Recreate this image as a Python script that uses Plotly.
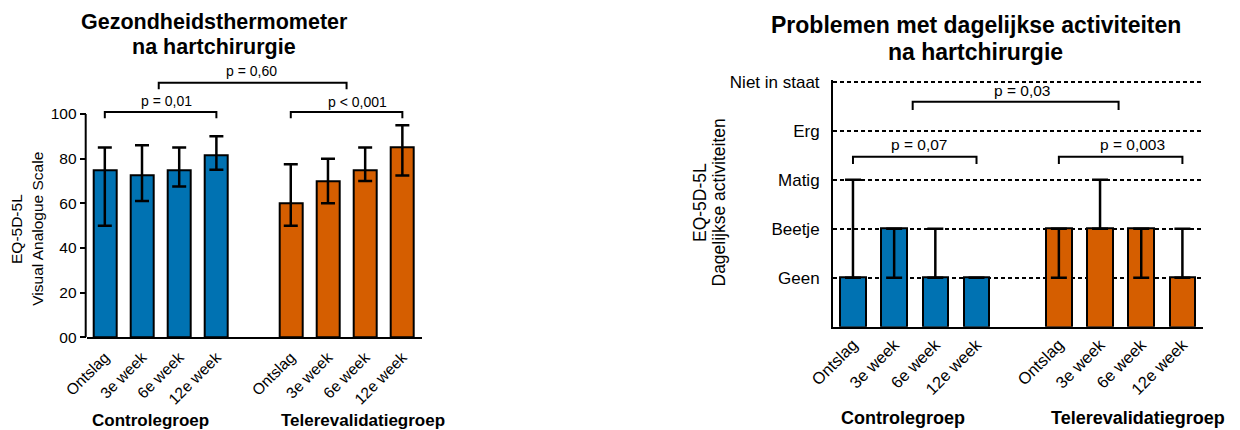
import plotly.graph_objects as go

# ---------------- data ----------------
categories = ["Ontslag", "3e week", "6e week", "12e week"]
groups = ["Controlegroep", "Telerevalidatiegroep"]

# Left chart: EQ-5D-5L VAS (median with error range)
vas_control = [75, 72.5, 75, 81.5]
vas_control_hi = [85, 86, 85, 90]
vas_control_lo = [50, 61, 67.5, 75]
vas_tele = [60, 70, 75, 85]
vas_tele_hi = [77.5, 80, 85, 95]
vas_tele_lo = [50, 60, 70, 72.5]
vas_ticks = [0, 20, 40, 60, 80, 100]
vas_ticktext = ["00", "20", "40", "60", "80", "100"]

# Right chart: problems with daily activities (ordinal levels)
adl_levels = ["Geen", "Beetje", "Matig", "Erg", "Niet in staat"]
adl_control = [1, 2, 1, 1]
adl_control_hi = [3, 2, 2, 1]
adl_control_lo = [1, 1, 1, 1]
adl_tele = [2, 2, 2, 1]
adl_tele_hi = [2, 3, 2, 2]
adl_tele_lo = [1, 2, 1, 1]

# significance brackets: (x_start, x_end, level, tick_drop, label, label_x, label_y)
vas_brackets = [
    (0, 3, 100.9, 2.8, "p = 0,01", 1.65, 105.8),
    (5, 8, 100.9, 2.8, "p < 0,001", 6.8, 105.6),
    (1.45, 6.5, 114.0, 2.9, "p = 0,60", 3.95, 119.3),
]
adl_brackets = [
    (0, 3, 3.47, 0.15, "p = 0,07", 1.6, 3.71),
    (5, 8, 3.47, 0.15, "p = 0,003", 6.8, 3.71),
    (1.45, 6.45, 4.59, 0.17, "p = 0,03", 4.1, 4.82),
]

# ---------------- style ----------------
BLUE = "#0072B2"
ORANGE = "#D55E00"
FONT = "Arial, Liberation Sans, sans-serif"
W, H = 1240, 430
GROUP_OFFSET = 5

pos_control = [i for i in range(len(categories))]
pos_tele = [i + GROUP_OFFSET for i in range(len(categories))]
all_pos = pos_control + pos_tele
all_labels = categories + categories


def px_x(p):
    return p / W


def px_y(p):
    return (H - p) / H


fig = go.Figure()


def add_bars(x, y, hi, lo, color, xaxis, yaxis, capw):
    fig.add_trace(go.Bar(
        x=x, y=y, width=0.62,
        marker=dict(color=color, line=dict(color="black", width=2)),
        error_y=dict(type="data", symmetric=False,
                     array=[h - v for h, v in zip(hi, y)],
                     arrayminus=[v - l for v, l in zip(y, lo)],
                     color="black", thickness=2.5, width=capw),
        xaxis=xaxis, yaxis=yaxis, showlegend=False, hoverinfo="skip",
    ))


add_bars(pos_control, vas_control, vas_control_hi, vas_control_lo, BLUE, "x", "y", 7)
add_bars(pos_tele, vas_tele, vas_tele_hi, vas_tele_lo, ORANGE, "x", "y", 7)
add_bars(pos_control, adl_control, adl_control_hi, adl_control_lo, BLUE, "x2", "y2", 8)
add_bars(pos_tele, adl_tele, adl_tele_hi, adl_tele_lo, ORANGE, "x2", "y2", 8)

# domains (pixel-based)
L_X = [px_x(86.7), px_x(421.7)]
L_Y = [px_y(337.3), px_y(58.2)]
R_X = [px_x(833), px_x(1203)]
R_Y = [px_y(326.7), px_y(80.2)]

fig.update_layout(
    width=W, height=H,
    margin=dict(l=0, r=0, t=0, b=0, autoexpand=False),
    paper_bgcolor="white", plot_bgcolor="white",
    font=dict(family=FONT, color="black"),
    bargap=0,
    xaxis=dict(domain=L_X, range=[-0.487, 8.52], tickvals=all_pos, ticktext=all_labels,
               tickangle=-45, showline=True, linecolor="black", linewidth=2,
               ticks="outside", ticklen=3, tickcolor="rgba(0,0,0,0)",
               showgrid=False, zeroline=False, automargin=False,
               tickfont=dict(size=15.5, family=FONT, color="black")),
    yaxis=dict(domain=L_Y, range=[0, 125], tickvals=vas_ticks, ticktext=vas_ticktext,
               showline=False, ticks="outside", ticklen=6, tickwidth=2, tickcolor="black",
               showgrid=False, zeroline=False, automargin=False,
               tickfont=dict(size=15.5, family=FONT, color="black")),
    xaxis2=dict(domain=R_X, anchor="y2", range=[-0.485, 8.5], tickvals=all_pos,
                ticktext=all_labels, tickangle=-45, showline=True, linecolor="black",
                linewidth=2, ticks="", showgrid=False, zeroline=False, automargin=False,
                tickfont=dict(size=16.5, family=FONT, color="black")),
    yaxis2=dict(domain=R_Y, anchor="x2", range=[0, 5.03], tickvals=[1, 2, 3, 4, 5],
                ticktext=adl_levels, showline=True, linecolor="black", linewidth=2,
                ticks="outside", ticklen=8, tickcolor="rgba(0,0,0,0)",
                showgrid=True, gridcolor="black", gridwidth=2, griddash="4px,3px",
                zeroline=False, automargin=False,
                tickfont=dict(size=17, family=FONT, color="black")),
)

shapes = []
# left y-axis line (only spans 0-100)
shapes.append(dict(type="line", xref="paper", yref="y", x0=L_X[0] - 1 / W, x1=L_X[0] - 1 / W,
                   y0=vas_ticks[0], y1=vas_ticks[-1], line=dict(color="black", width=2)))

annotations = []


def add_brackets(brackets, xref, yref, fsize):
    for x0, x1, lvl, drop, label, lx, ly in brackets:
        shapes.append(dict(type="path", xref=xref, yref=yref,
                           path=f"M {x0},{lvl - drop} L {x0},{lvl} L {x1},{lvl} L {x1},{lvl - drop}",
                           line=dict(color="black", width=2)))
        annotations.append(dict(text=label, xref=xref, yref=yref, x=lx, y=ly,
                                xanchor="center", yanchor="middle", showarrow=False,
                                font=dict(size=fsize, family=FONT, color="black")))


add_brackets(vas_brackets, "x", "y", 14)
add_brackets(adl_brackets, "x2", "y2", 15.5)

# titles
title_lines = [
    ("Gezondheidsthermometer", "x", 2.94, 21.5, 21.5),
    ("na hartchirurgie", "x", 2.94, 46.5, 21.5),
    ("Problemen met dagelijkse activiteiten", "x2", 2.98, 25, 23),
    ("na hartchirurgie", "x2", 2.98, 52, 23),
]
for text, xref, x, ypx, fs in title_lines:
    annotations.append(dict(text=f"<b>{text}</b>", xref=xref, yref="paper", x=x, y=px_y(ypx),
                            xanchor="center", yanchor="middle", showarrow=False,
                            font=dict(size=fs, family=FONT, color="black")))

# group labels
for xref, xs, ypx, fs in [("x", [1.22, 6.94], 420, 17), ("x2", [1.21, 6.92], 418, 18)]:
    for g, gx in zip(groups, xs):
        annotations.append(dict(text=f"<b>{g}</b>", xref=xref, yref="paper", x=gx, y=px_y(ypx),
                                xanchor="center", yanchor="middle", showarrow=False,
                                font=dict(size=fs, family=FONT, color="black")))

# y-axis titles (two lines each)
ytitles = [
    ("EQ-5D-5L", 16, 229, 15.5),
    ("Visual Analogue Scale", 36.7, 229, 15.5),
    ("EQ-5D-5L", 700, 203, 17.5),
    ("Dagelijkse activiteiten", 718.5, 203, 17.5),
]
for text, xpx, ypx, fs in ytitles:
    annotations.append(dict(text=text, xref="paper", yref="paper", x=px_x(xpx), y=px_y(ypx),
                            xanchor="center", yanchor="middle", textangle=-90, showarrow=False,
                            font=dict(size=fs, family=FONT, color="black")))

fig.update_layout(shapes=shapes, annotations=annotations)
fig.write_html("out.html", config={"displayModeBar": False},
               post_script="document.body.style.margin='0';")
